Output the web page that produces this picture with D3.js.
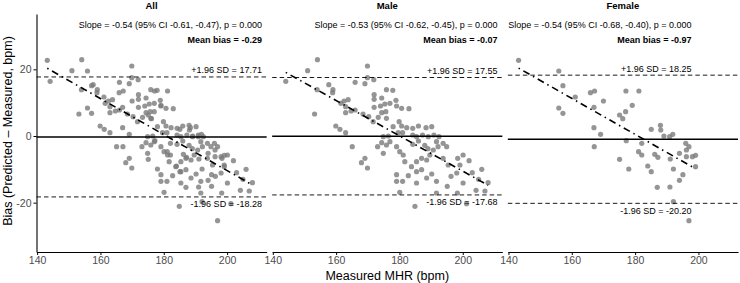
<!DOCTYPE html>
<body style="overflow: hidden; padding: 0; margin: 0; background: #fff;">
<script src="https://cdnjs.cloudflare.com/ajax/libs/d3/7.8.5/d3.min.js"></script>
<script>

    const width = 740, height = 283;

    // measured MHR (x) and bias (y) per group
    const maleX = [144.1,151.0,154.1,153.2,154.0,157.7,159.0,158.9,159.9,161.2,163.0,161.5,163.0,162.5,163.8,163.0,164.7,166.0,166.0,169.1,169.9,169.9,171.9,175.9,177.9,172.0,174.4,172.0,
      172.0,174.0,175.4,177.0,178.9,179.1,180.7,183.0,174.4,175.7,173.3,175.9,171.7,170.3,168.5,179.9,180.7,178.0,179.6,181.0,182.3,184.2,186.0,188.4,190.2,184.2,185.4,187.3,189.1,190.9,192.5,174.9,176.5,
      165.1,168.0,169.1,169.9,173.1,174.4,175.9,177.0,174.9,179.1,180.1,181.2,179.1,181.0,179.1,180.1,184.9,185.4,187.0,188.6,189.6,190.7,192.2,191.7,193.8,183.8,185.4,187.0,190.2,191.7,195.1,196.3,198.1,199.1,200.1,202.0,204.2,198.3,201.2,
      194.9,193.8,195.4,198.4,200.1,184.2,186.0,188.0,189.0,181.7,182.8,185.4,188.6,191.7,206.0,208.0,207.0,203.0,205.0];
    const maleY = [16.4,19.6,22.9,6.6,13.9,15.4,13.9,13.0,3.0,2.0,1.0,9.8,8.8,10.5,10.9,7.0,7.5,7.8,16.1,15.7,21.0,17.5,16.9,13.9,13.7,12.4,11.4,11.0,
      8.6,9.0,9.6,9.8,10.7,9.0,8.3,8.2,7.0,7.3,5.6,5.3,4.3,5.8,6.6,4.3,3.0,2.8,1.0,1.0,2.5,2.3,3.0,2.5,2.8,0.3,-0.2,0.3,-0.2,0.3,-0.2,-0.2,0.0,
      -3.2,-8.0,-6.7,-9.6,-3.2,-2.0,-2.7,-1.7,-5.2,-3.2,-4.7,-5.7,-11.6,-13.6,-13.6,-16.9,-21.1,-7.7,-6.7,-7.2,-5.7,-4.2,-3.2,-1.7,-2.2,-9.2,-10.7,-10.1,-11.4,-17.1,-15.1,-12.1,-11.1,-8.7,-14.1,-7.4,-16.3,-17.1,-20.3,
      -3.2,-6.7,-8.7,-6.7,-5.7,-2.5,-1.5,-2.8,-3.8,-7.7,-11.9,-14.1,-12.6,-13.6,-10.0,-14.0,-16.5,-11.0,-13.0];

    const femaleX = [143.2,155.9,157.2,155.9,157.2,161.1,165.9,167.2,170.0,167.0,167.0,169.1,177.1,181.2,179.1,175.1,176.1,177.0,185.1,188.0,188.1,189.1,190.9,191.9,
      167.1,175.1,177.2,178.0,181.1,182.1,182.1,184.0,185.1,186.2,187.2,187.0,191.0,191.1,192.1,192.1,194.0,195.1,194.0,196.0,197.0,196.2,196.2,198.1,199.1,199.1,197.0];
    const femaleY = [22.7,19.5,15.1,8.4,6.8,11.7,13.0,13.5,10.5,8.6,2.5,0.5,13.5,13.5,9.2,6.3,5.2,7.3,2.0,3.2,1.8,0.0,-0.2,0.5,
      -3.2,-7.0,-1.4,-9.9,-4.7,-5.7,-2.2,-9.0,-10.7,-5.5,-6.4,-15.4,-15.3,-6.9,-9.9,-19.7,-5.2,-11.6,-13.3,-2.2,-3.2,-4.2,-6.2,-6.2,-5.8,-9.2,-25.4];

    const groups = ["All", "Male", "Female"];
    const slopes = [-0.54, -0.53, -0.54];
    const slopeCI = [[-0.61, -0.47], [-0.62, -0.45], [-0.68, -0.40]];
    const pValues = ["0.000", "0.000", "0.000"];
    const zeroCross = [180.8, 180.1, 180.9]; // x where fitted line crosses 0
    const meanBias = [-0.29, -0.07, -0.97];
    const upperLoA = [17.71, 17.55, 18.25];
    const lowerLoA = [-18.28, -17.68, -20.20];
    const labelAnchor = [211.0, 211.0, 197.8];
    const xTicks = [140, 160, 180, 200];
    const yTicks = [-20, 0, 20];

    const pts = {
      Male: maleX.map((x, i) => ({x: x, y: maleY[i]})),
      Female: femaleX.map((x, i) => ({x: x, y: femaleY[i]}))
    };
    pts.All = pts.Male.concat(pts.Female);

    const marginLeft = 36.5, marginRight = 2, gap = 5.5, padTop = 14, padBottom = 252;
    const panelW = (width - marginLeft - marginRight - 2 * gap) / 3;

    const x = d3.scaleLinear().domain([139.8, 212.5]).range([0, panelW]);
    const y = d3.scaleLinear().domain([-34.8, 36.6]).range([padBottom, padTop]);

    const svg = d3.select("body").append("svg")
      .attr("width", width)
      .attr("height", height)
      .style("font-family", "'Liberation Sans', Arial, sans-serif");

    groups.forEach((g, gi) => {
      const left = marginLeft + gi * (panelW + gap);
      const p = svg.append("g").attr("transform", `translate(${left},0)`);
      const data = pts[g];

      // strip title
      p.append("text")
        .attr("x", panelW / 2).attr("y", 9)
        .attr("text-anchor", "middle")
        .style("font-size", "9.5px").style("font-weight", "bold")
        .text(g);

      // points
      p.selectAll("circle")
        .data(data)
        .enter().append("circle")
        .attr("cx", d => x(d.x))
        .attr("cy", d => y(d.y))
        .attr("r", 2.6)
        .style("fill", "#7a7a7a")
        .style("fill-opacity", 0.8);

      // mean bias and limits of agreement
      p.append("line")
        .attr("x1", 0).attr("x2", panelW)
        .attr("y1", y(meanBias[gi])).attr("y2", y(meanBias[gi]))
        .style("stroke", "#000").style("stroke-width", 1.6);
      [upperLoA[gi], lowerLoA[gi]].forEach(v => {
        p.append("line")
          .attr("x1", 0).attr("x2", panelW)
          .attr("y1", y(v)).attr("y2", y(v))
          .style("stroke", "#000").style("stroke-width", 0.9)
          .style("stroke-dasharray", "4.5,3");
      });

      // regression line
      const ext = d3.extent(data, d => d.x);
      const fit = v => slopes[gi] * (v - zeroCross[gi]);
      p.append("line")
        .attr("x1", x(ext[0])).attr("y1", y(fit(ext[0])))
        .attr("x2", x(ext[1])).attr("y2", y(fit(ext[1])))
        .style("stroke", "#000").style("stroke-width", 1.6)
        .style("stroke-dasharray", "1.5,4,7,4");

      // labels
      const ax = x(labelAnchor[gi]);
      p.append("text")
        .attr("x", ax).attr("y", 28)
        .attr("text-anchor", "end")
        .style("font-size", "9px")
        .text(`Slope = ${slopes[gi].toFixed(2)} (95% CI ${slopeCI[gi][0].toFixed(2)}, ${slopeCI[gi][1].toFixed(2)}), p = ${pValues[gi]}`);
      p.append("text")
        .attr("x", ax).attr("y", 42.5)
        .attr("text-anchor", "end")
        .style("font-size", "9px").style("font-weight", "bold")
        .text(`Mean bias = ${meanBias[gi].toFixed(2)}`);
      p.append("text")
        .attr("x", ax).attr("y", y(upperLoA[gi]) - 3.5)
        .attr("text-anchor", "end")
        .style("font-size", "9px")
        .text(`+1.96 SD = ${upperLoA[gi].toFixed(2)}`);
      p.append("text")
        .attr("x", ax).attr("y", y(lowerLoA[gi]) + 10.5)
        .attr("text-anchor", "end")
        .style("font-size", "9px")
        .text(`-1.96 SD = ${lowerLoA[gi].toFixed(2)}`);

      // bottom axis
      const xa = p.append("g")
        .attr("transform", `translate(0,${padBottom})`)
        .call(d3.axisBottom(x).tickValues(xTicks).tickSize(3).tickPadding(2).tickSizeOuter(0));
      xa.select(".domain").style("stroke-width", 1.1);
      xa.selectAll("text").style("font-size", "10.5px").style("fill", "#4d4d4d").style("font-family", "'Liberation Sans', Arial, sans-serif");

      if (gi === 0) {
        const ya = p.append("g")
          .call(d3.axisLeft(y).tickValues(yTicks).tickFormat(d => String(d)).tickSize(3).tickPadding(2).tickSizeOuter(0));
        ya.select(".domain").style("stroke-width", 1.1);
        ya.selectAll("text").style("font-size", "10.5px").style("fill", "#4d4d4d").style("font-family", "'Liberation Sans', Arial, sans-serif");
      }
    });

    // axis titles
    svg.append("text")
      .attr("x", (marginLeft + width - marginRight) / 2).attr("y", 279.5)
      .attr("text-anchor", "middle")
      .style("font-size", "12.5px")
      .text("Measured MHR (bpm)");
    svg.append("text")
      .attr("transform", `translate(11.5,131) rotate(-90)`)
      .attr("text-anchor", "middle")
      .style("font-size", "12.5px")
      .text("Bias (Predicted \u2013 Measured, bpm)");

</script>
